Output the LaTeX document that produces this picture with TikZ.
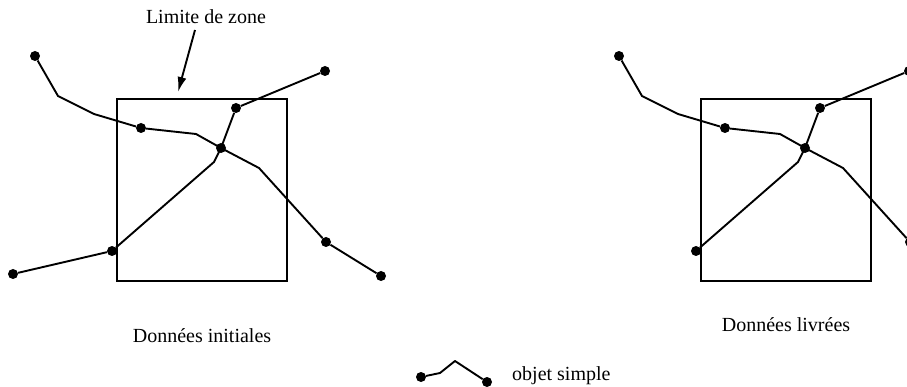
\documentclass[tikz,border=0pt]{standalone}
\usepackage{fontspec}
\setmainfont{Liberation Serif}
\usepackage{tikz}
\usetikzlibrary{
    arrows.meta,
    positioning
}
\tikzset{
    dot/.style={
        circle,
        fill=black,
        inner sep=0pt,
        minimum size=10pt
    },
    trace/.style={
        line width=1.9pt,
        line join=round
    },
    zone/.style={
        rectangle,
        draw=black,
        line width=2pt,
        minimum width=170pt,
        minimum height=182pt
    },
    txt/.style={
        inner sep=0pt,
        font=\fontsize{20}{24}\selectfont
    },
    pointer/.style={
        -{Latex[length=15pt, width=9pt]},
        line width=1.9pt
    }
}

\begin{document}
\begin{tikzpicture}[x=1pt, y=-1pt]
\clip (0,0) rectangle (907,387);

\foreach \p/\dx in {a/0, b/584} {
  \begin{scope}[shift={(\dx,0)}]
    \node[zone] (\p-box) at (202,190) {};
    % points of the objects
    \node[dot] (\p-d1) at (35,56) {};
    \node[dot] (\p-d2) at (141,128) {};
    \node[dot] (\p-d3) at (221,148) {};
    \node[dot] (\p-d4) at (326,242) {};
    \node[dot] (\p-d5) at (381,276) {};
    \node[dot] (\p-d7) at (112,251) {};
    \node[dot] (\p-d8) at (236,108) {};
    \node[dot] (\p-d9) at (325,71) {};
    \coordinate (\p-b1) at (58,96);
    \coordinate (\p-b2) at (94,114);
    \coordinate (\p-b3) at (196,134);
    \coordinate (\p-b4) at (259,168);
    \coordinate (\p-b5) at (214,162);
    \draw[trace] (\p-d1) -- (\p-b1) -- (\p-b2) -- (\p-d2) -- (\p-b3) -- (\p-d3.center) -- (\p-b4) -- (\p-d4) -- (\p-d5);
    \draw[trace] (\p-d7) -- (\p-b5) -- (\p-d3.center) -- (\p-d8) -- (\p-d9);
  \end{scope}
}

% only in the initial data
\node[dot] (a-d6) at (13,274) {};
\draw[trace] (a-d6) -- (a-d7);

\node[txt] (limit) at (206,17) {Limite de zone};
\coordinate (tail) at (195,30);
\coordinate (tip) at (178,92);
\draw[pointer] (tail) -- (tip);

\node[txt] (initial) at (202,336) {Données initiales};
\node[txt] (delivered) at (786,325) {Données livrées};

% legend
\node[dot] (e1) at (421,377) {};
\coordinate (c1) at (440,373);
\coordinate (c2) at (455,361);
\node[dot] (e2) at (487,382) {};
\draw[trace] (e1) -- (c1) -- (c2) -- (e2);
\node[txt, anchor=west] (legend) at (512,376) {objet simple};

\end{tikzpicture}
\end{document}
